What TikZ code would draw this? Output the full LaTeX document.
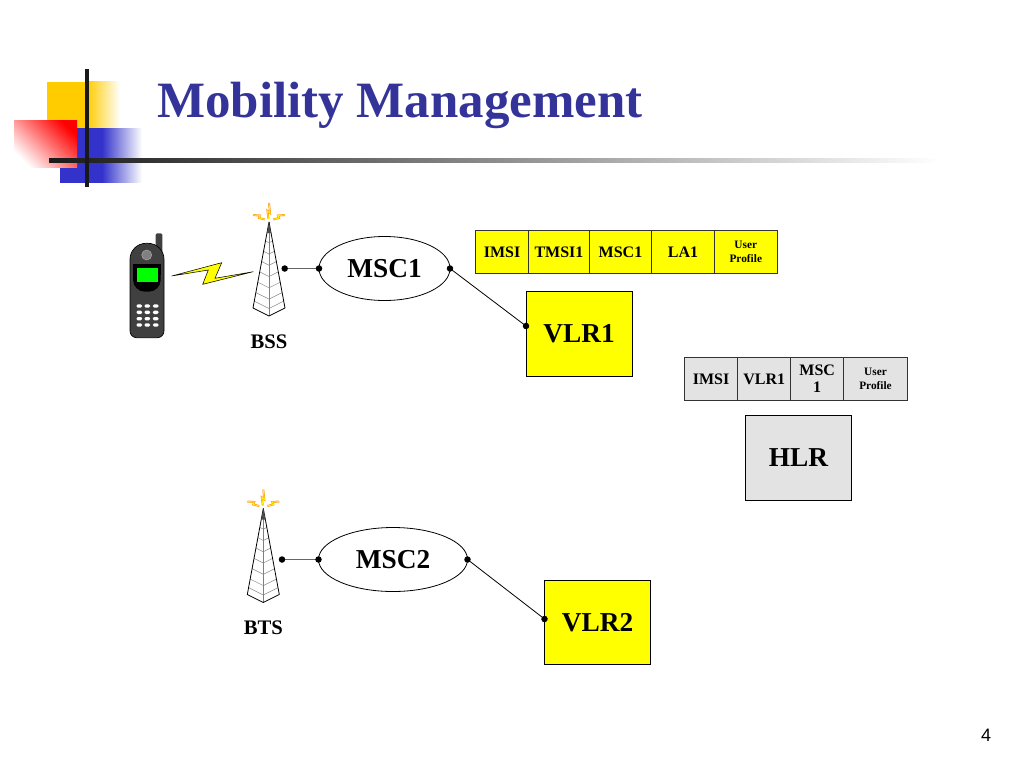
\documentclass[tikz,border=0pt]{standalone}
\usepackage{fontspec}
\setmainfont{Liberation Serif}
\newfontfamily\pagefont{Liberation Sans}
\usetikzlibrary{arrows.meta,positioning,shapes.geometric}

\definecolor{titleblue}{RGB}{51,51,153}
\definecolor{logoyellow}{RGB}{255,204,0}
\definecolor{logoblue}{RGB}{51,51,204}
\definecolor{recgray}{RGB}{227,227,227}
\definecolor{recyellow}{RGB}{255,255,0}
\definecolor{boltorange}{RGB}{255,160,30}

\tikzset{
  cell/.style={draw=black!80,line width=.6pt,inner sep=0pt,outer sep=0pt,minimum height=32pt,align=center,font=\fontsize{12}{13}\selectfont\bfseries},
  small/.style={font=\fontsize{8.5}{10.2}\selectfont\bfseries},
  store/.style={draw=black,line width=.6pt,inner sep=0pt,outer sep=0pt,minimum width=79.5pt,minimum height=63.5pt,font=\fontsize{20.5}{24}\selectfont\bfseries},
  msc/.style={draw=black,ellipse,line width=.6pt,inner sep=0pt,outer sep=0pt,minimum height=48pt,font=\fontsize{20.5}{24}\selectfont\bfseries},
  site/.style={font=\fontsize{15.5}{18}\selectfont\bfseries},
  link/.style={{Circle[length=4.8pt,black]}-{Circle[length=4.8pt,black]},shorten >=-2.4pt,shorten <=-2.4pt,line width=.6pt},
  toplink/.style={link,line width=.9pt,black!60},
  bolt/.style={boltorange,line width=1.5pt},
  boltcore/.style={recyellow,line width=.5pt}
}

\newcommand{\drawbolts}[1]{
  \draw[#1] (-.5,-3) -- (-1.5,-11) -- (1,-9) -- (0,-19);
  \draw[#1] (-16,-7) -- (-9,-6.5) -- (-10,-4) -- (-4,-2.5);
  \draw[#1] (16,-7) -- (9,-6.5) -- (10,-4) -- (4,-2.5);
}

\newcommand{\drawtower}[2]{
  \begin{scope}[shift={(#1,#2)}]
    \foreach \t in {.22,.34,.46,.58,.70,.82,.92}
      \draw[black!45,line width=.4pt] (-16*\t,86*\t) -- (0,94*\t) -- (16*\t,86*\t);
    \draw[black!50,line width=.4pt] (0,0) -- (0,94);
    \draw[black,line width=.6pt,line join=round] (0,0) -- (-16,86) -- (0,94) -- (16,86) -- cycle;
    \fill[black!70] (0,0) -- (-2.2,11) -- (2.2,11) -- cycle;
    \drawbolts{bolt}
    \drawbolts{boltcore}
  \end{scope}
}

\begin{document}
\begin{tikzpicture}[x=.75pt,y=-.75pt]
\useasboundingbox (0,0) rectangle (1024,768);

\fill[logoyellow] (46.7,81.7) rectangle (87,128);
\shade[left color=logoyellow,right color=white] (87,81.7) rectangle (120,128);
\fill[logoblue] (60.3,128) rectangle (102,182.7);
\shade[left color=logoblue,right color=white] (102,128) rectangle (142,182.7);
\shade[left color=white,right color=red,shading angle=135] (14,120) rectangle (77,167.7);
\shade[left color=black!90,right color=white] (49,158) rectangle (940,162);
\fill[black!90] (85,69) rectangle (89,187);

\node[anchor=west,text=titleblue,inner sep=0pt,font=\fontsize{38.2}{44}\selectfont\bfseries] (title) at (157,105) {Mobility Management};

\fill[black!75,rounded corners=1pt] (155.7,233.3) rectangle (162.3,262);
\draw[black,line width=.5pt,fill=black!75,rounded corners=12pt] (130,295) -- (130,243.3) -- (164,243.3) -- (164,295) [rounded corners=5pt] -- (164,337.7) -- (130,337.7) -- cycle;
\fill[black,rounded corners=9pt] (133,264) -- (160.7,264) -- (160.7,291.7) -- (133,291.7) -- cycle;
\fill[black] (133,264) rectangle (160.7,275);
\fill[black!50,draw=black!35] (146.7,255) circle (5);
\fill[green] (137.3,267.7) rectangle (157.7,281.7);
\foreach \ky in {306,312.3,318.7,325}
  \foreach \kx in {139.3,147.3,155.7}
    \fill[white,rounded corners=1pt] (\kx-2.8,\ky-1.7) rectangle (\kx+2.8,\ky+1.7);
\draw[black,line width=.4pt,fill=recyellow] (171.7,276) -- (221.7,262.7) -- (215,278.3) -- (253.3,271.7) -- (202.7,284.3) -- (208.3,270) -- cycle;

\drawtower{269}{222}
\drawtower{263.3}{508.5}

\node[site] (bss) at (269,342) {BSS};
\node[site] (bts) at (263.3,628) {BTS};

\node[msc,minimum width=98.25pt] (msc1) at (384.5,268.5) {MSC1};
\node[msc,minimum width=111.75pt] (msc2) at (393,559.5) {MSC2};

\node[store,fill=recyellow] (vlr1) at (579,334) {VLR1};
\node[store,fill=recyellow] (vlr2) at (597.5,622.5) {VLR2};
\node[store,fill=recgray] (hlr) at (798.5,458) {HLR};

\node[cell,fill=recyellow,minimum width=39.75pt] (imsi1) at (502,252) {IMSI};
\node[cell,fill=recyellow,minimum width=45.75pt,right=0pt of imsi1] (tmsi1) {TMSI1};
\node[cell,fill=recyellow,minimum width=46.5pt,right=0pt of tmsi1] (mscid1) {MSC1};
\node[cell,fill=recyellow,minimum width=47.25pt,right=0pt of mscid1] (la1) {LA1};
\node[cell,small,fill=recyellow,minimum width=46.9pt,right=0pt of la1] (user1) {User\\Profile};

\node[cell,fill=recgray,minimum width=39.75pt] (imsi2) at (711,379) {IMSI};
\node[cell,fill=recgray,minimum width=40pt,right=0pt of imsi2] (vlrid) {VLR1};
\node[cell,fill=recgray,minimum width=39.5pt,right=0pt of vlrid] (mscid2) {MSC\\1};
\node[cell,small,fill=recgray,minimum width=48pt,right=0pt of mscid2] (user2) {User\\Profile};

\coordinate (bssout) at (284.7,268.5);
\coordinate (btsout) at (282,559.5);
\coordinate (vlr1in) at (526,326);
\coordinate (vlr2in) at (544.5,619);

\draw[toplink] (bssout) -- (msc1.west);
\draw[toplink] (btsout) -- (msc2.west);
\draw[link] (msc1.east) -- (vlr1in);
\draw[link] (msc2.east) -- (vlr2in);

\node[font=\pagefont\fontsize{13.5}{16}\selectfont] (pageno) at (986,735) {4};
\end{tikzpicture}
\end{document}
